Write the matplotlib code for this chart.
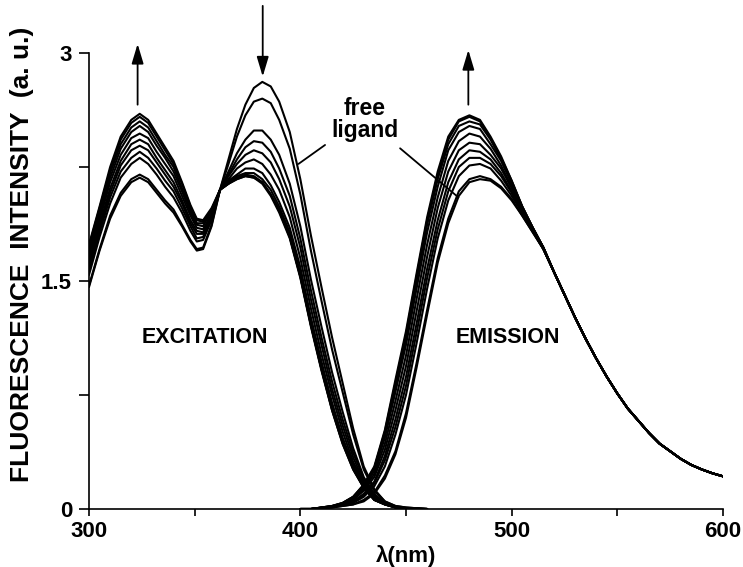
import matplotlib
matplotlib.use("Agg")
import matplotlib.pyplot as plt

plt.rcParams['font.family'] = ['Liberation Sans', 'DejaVu Sans']
plt.rcParams['font.weight'] = 'bold'

# ---------------- data ----------------
ex_wl = [300, 305, 310, 315, 320, 324, 328, 332, 336, 340, 344, 348, 351, 354, 358, 362,
         366, 370, 374, 378, 382, 386, 390, 395, 400, 405, 410, 415, 420, 425, 430, 435,
         440, 445, 450, 460]

ex0 = [1.46, 1.70, 1.91, 2.06, 2.15, 2.18, 2.15, 2.08, 2.01, 1.95, 1.86, 1.76, 1.70, 1.71, 1.86, 2.10,
       2.30, 2.50, 2.66, 2.77, 2.81, 2.78, 2.68, 2.48, 2.17, 1.80, 1.46, 1.13, 0.83, 0.53, 0.28, 0.13,
       0.05, 0.02, 0.01, 0.0]
ex1 = [1.47, 1.71, 1.93, 2.08, 2.17, 2.20, 2.17, 2.10, 2.03, 1.97, 1.87, 1.77, 1.71, 1.72, 1.87, 2.10,
       2.27, 2.45, 2.59, 2.68, 2.70, 2.67, 2.56, 2.37, 2.07, 1.70, 1.37, 1.05, 0.77, 0.49, 0.26, 0.12,
       0.05, 0.02, 0.01, 0.0]
ex2 = [1.54, 1.79, 2.01, 2.18, 2.27, 2.31, 2.27, 2.20, 2.12, 2.05, 1.95, 1.83, 1.76, 1.77, 1.90, 2.10,
       2.22, 2.34, 2.43, 2.49, 2.49, 2.43, 2.33, 2.14, 1.86, 1.51, 1.20, 0.90, 0.64, 0.40, 0.21, 0.10,
       0.04, 0.015, 0.005, 0.0]
ex3 = [1.57, 1.82, 2.05, 2.22, 2.31, 2.35, 2.31, 2.24, 2.16, 2.09, 1.98, 1.86, 1.78, 1.79, 1.91, 2.10,
       2.20, 2.30, 2.38, 2.42, 2.41, 2.35, 2.24, 2.06, 1.78, 1.44, 1.13, 0.84, 0.59, 0.37, 0.20, 0.09,
       0.04, 0.014, 0.004, 0.0]
ex4 = [1.60, 1.85, 2.08, 2.26, 2.36, 2.39, 2.36, 2.28, 2.20, 2.12, 2.01, 1.88, 1.81, 1.81, 1.92, 2.10,
       2.19, 2.27, 2.33, 2.36, 2.34, 2.28, 2.17, 1.99, 1.72, 1.38, 1.08, 0.79, 0.55, 0.34, 0.18, 0.08,
       0.036, 0.013, 0.003, 0.0]
ex5 = [1.63, 1.87, 2.11, 2.29, 2.40, 2.43, 2.40, 2.31, 2.23, 2.15, 2.03, 1.90, 1.83, 1.82, 1.93, 2.10,
       2.17, 2.24, 2.28, 2.30, 2.27, 2.20, 2.10, 1.92, 1.65, 1.32, 1.02, 0.75, 0.51, 0.31, 0.17, 0.07,
       0.034, 0.012, 0.002, 0.0]
ex6 = [1.66, 1.90, 2.15, 2.33, 2.44, 2.47, 2.44, 2.35, 2.27, 2.19, 2.06, 1.93, 1.85, 1.84, 1.94, 2.10,
       2.16, 2.20, 2.24, 2.24, 2.21, 2.13, 2.02, 1.85, 1.59, 1.26, 0.97, 0.70, 0.47, 0.29, 0.15, 0.07,
       0.032, 0.011, 0.001, 0.0]
ex7 = [1.68, 1.93, 2.18, 2.37, 2.48, 2.52, 2.48, 2.39, 2.31, 2.22, 2.09, 1.95, 1.87, 1.86, 1.96, 2.10,
       2.15, 2.19, 2.21, 2.21, 2.17, 2.10, 1.99, 1.82, 1.55, 1.23, 0.94, 0.67, 0.45, 0.27, 0.15, 0.06,
       0.03, 0.01, 0.0, 0.0]
ex8 = [1.70, 1.95, 2.21, 2.40, 2.51, 2.55, 2.51, 2.42, 2.33, 2.25, 2.11, 1.97, 1.88, 1.88, 1.96, 2.10,
       2.14, 2.18, 2.20, 2.19, 2.15, 2.07, 1.97, 1.79, 1.53, 1.21, 0.92, 0.66, 0.44, 0.27, 0.14, 0.06,
       0.03, 0.01, 0.0, 0.0]
ex9 = [1.73, 1.98, 2.23, 2.43, 2.54, 2.58, 2.54, 2.45, 2.36, 2.27, 2.14, 1.99, 1.90, 1.89, 1.97, 2.10,
       2.14, 2.17, 2.19, 2.18, 2.15, 2.07, 1.96, 1.79, 1.53, 1.21, 0.92, 0.65, 0.43, 0.26, 0.14, 0.06,
       0.03, 0.01, 0.0, 0.0]
ex10 = [1.74, 1.99, 2.25, 2.45, 2.56, 2.60, 2.56, 2.47, 2.38, 2.29, 2.15, 2.00, 1.91, 1.90, 1.98, 2.10,
        2.14, 2.17, 2.19, 2.18, 2.14, 2.06, 1.95, 1.78, 1.52, 1.20, 0.91, 0.65, 0.43, 0.26, 0.14, 0.06,
        0.03, 0.01, 0.0, 0.0]

em_wl = list(range(400, 605, 5))
em0 = [0.0, 0.0, 0.005, 0.01, 0.02, 0.03, 0.05, 0.10, 0.20, 0.36, 0.60, 0.93, 1.28, 1.62, 1.88, 2.06,
       2.15, 2.17, 2.16, 2.11, 2.03, 1.93, 1.82, 1.71]
em1 = [0.0, 0.0, 0.005, 0.01, 0.02, 0.03, 0.06, 0.11, 0.22, 0.38, 0.63, 0.96, 1.31, 1.65, 1.91, 2.09,
       2.17, 2.19, 2.17, 2.12, 2.04, 1.93, 1.82, 1.71]
em2 = [0.0, 0.0, 0.006, 0.013, 0.025, 0.04, 0.08, 0.15, 0.28, 0.49, 0.75, 1.09, 1.45, 1.78, 2.03, 2.19,
       2.26, 2.27, 2.24, 2.16, 2.06, 1.95, 1.83, 1.71]
em3 = [0.0, 0.0, 0.007, 0.014, 0.027, 0.05, 0.09, 0.17, 0.32, 0.54, 0.81, 1.16, 1.52, 1.84, 2.09, 2.25,
       2.31, 2.31, 2.27, 2.19, 2.08, 1.95, 1.83, 1.71]
em4 = [0.0, 0.0, 0.007, 0.015, 0.03, 0.05, 0.10, 0.18, 0.35, 0.59, 0.87, 1.22, 1.58, 1.90, 2.15, 2.30,
       2.36, 2.35, 2.30, 2.21, 2.09, 1.96, 1.83, 1.71]
em5 = [0.0, 0.0, 0.008, 0.016, 0.032, 0.06, 0.12, 0.21, 0.39, 0.65, 0.94, 1.30, 1.66, 1.98, 2.22, 2.36,
       2.41, 2.40, 2.33, 2.24, 2.11, 1.97, 1.84, 1.72]
em6 = [0.0, 0.0, 0.009, 0.017, 0.034, 0.07, 0.13, 0.23, 0.43, 0.71, 1.01, 1.38, 1.74, 2.05, 2.29, 2.42,
       2.47, 2.45, 2.37, 2.26, 2.12, 1.97, 1.84, 1.72]
em7 = [0.0, 0.0, 0.009, 0.018, 0.037, 0.07, 0.14, 0.25, 0.47, 0.77, 1.08, 1.45, 1.82, 2.12, 2.36, 2.48,
       2.52, 2.50, 2.40, 2.29, 2.14, 1.98, 1.85, 1.72]
em8 = [0.0, 0.0, 0.01, 0.019, 0.038, 0.08, 0.15, 0.27, 0.49, 0.81, 1.12, 1.50, 1.87, 2.17, 2.40, 2.52,
       2.55, 2.53, 2.43, 2.30, 2.15, 1.99, 1.85, 1.72]
em9 = [0.0, 0.0, 0.01, 0.02, 0.04, 0.08, 0.16, 0.27, 0.51, 0.83, 1.15, 1.53, 1.90, 2.20, 2.43, 2.55,
       2.58, 2.55, 2.44, 2.31, 2.16, 1.99, 1.85, 1.72]
em10 = [0.0, 0.0, 0.01, 0.02, 0.04, 0.08, 0.16, 0.28, 0.52, 0.85, 1.17, 1.55, 1.92, 2.22, 2.45, 2.56,
        2.59, 2.56, 2.45, 2.32, 2.16, 1.99, 1.85, 1.72]
# common long-wavelength tail (520..600 nm), all emission spectra coincide there
em_tail = [1.56, 1.41, 1.26, 1.12, 0.99, 0.87, 0.76, 0.66, 0.58, 0.50, 0.43, 0.38, 0.33, 0.29,
           0.26, 0.235, 0.215]

x_ticks = [300, 350, 400, 450, 500, 550, 600]
x_ticklabels = ['300', '', '400', '', '500', '', '600']
y_ticks = [0, 0.75, 1.5, 2.25, 3]
y_ticklabels = ['0', '', '1.5', '', '3']

# arrows: (x, tail y, tip y)
arrow_x = [323.0, 382.2, 479.5]
arrow_from = [2.66, 3.31, 2.66]
arrow_to = [3.06, 2.845, 3.02]

# ---------------- figure ----------------
fig = plt.figure(figsize=(7.43, 5.67), dpi=100)
ax = fig.add_axes([89 / 743, 1 - 509 / 567, (723 - 89) / 743, 509 / 567])

LW = 1.5
for c in [ex0, ex1, ex2, ex3, ex4, ex5, ex6, ex7, ex8, ex9, ex10]:
    ax.plot(ex_wl, c, color='black', lw=LW, solid_joinstyle='round', solid_capstyle='round')
for c in [em0, em1, em2, em3, em4, em5, em6, em7, em8, em9, em10]:
    ax.plot(em_wl, c + em_tail, color='black', lw=LW, solid_joinstyle='round', solid_capstyle='round')

ax.set_xlim(300, 600)
ax.set_ylim(0, 509 / 152)

for s in ['top', 'right']:
    ax.spines[s].set_visible(False)
ax.spines['left'].set_bounds(0, 3)
ax.spines['bottom'].set_bounds(300, 600)
for s in ['left', 'bottom']:
    ax.spines[s].set_linewidth(1.2)

ax.set_xticks(x_ticks)
ax.set_xticklabels(x_ticklabels)
ax.set_yticks(y_ticks)
ax.set_yticklabels(y_ticklabels)
ax.tick_params(axis='y', direction='out', length=7.2, width=1.2, pad=5, labelsize=16)
ax.tick_params(axis='x', direction='out', length=5, width=1.2, pad=3.5, labelsize=16)
for lab in ax.get_xticklabels() + ax.get_yticklabels():
    lab.set_fontweight('bold')

ax.set_xlabel('λ(nm)', fontsize=16, fontweight='bold')
ax.xaxis.set_label_coords(0.5, -0.07)
ax.set_ylabel('FLUORESCENCE  INTENSITY  (a. u.)', fontsize=19, fontweight='bold')
ax.yaxis.set_label_coords(-0.086, 0.5)

ax.text(355, 1.13, 'EXCITATION', fontsize=15.5, fontweight='bold', ha='center', va='center')
ax.text(498.4, 1.13, 'EMISSION', fontsize=15.5, fontweight='bold', ha='center', va='center')
ax.text(430.6, 2.56, 'free\nligand', fontsize=16.5, fontweight='bold', ha='center', va='center',
        linespacing=0.95)

# leader lines from the label to the free-ligand curves
ax.annotate('', xy=(399.1, 2.27), xytext=(411.7, 2.395),
            arrowprops=dict(arrowstyle='-', color='black', lw=1.3, shrinkA=0, shrinkB=0))
ax.annotate('', xy=(474.8, 2.05), xytext=(447.2, 2.373),
            arrowprops=dict(arrowstyle='-', color='black', lw=1.3, shrinkA=0, shrinkB=0))

for xa, y0, y1 in zip(arrow_x, arrow_from, arrow_to):
    ax.annotate('', xy=(xa, y1), xytext=(xa, y0),
                arrowprops=dict(arrowstyle='-|>,head_length=1.0,head_width=0.3',
                                mutation_scale=12, color='black', lw=1.3,
                                shrinkA=0, shrinkB=0))

fig.savefig('out.png', dpi=100)
